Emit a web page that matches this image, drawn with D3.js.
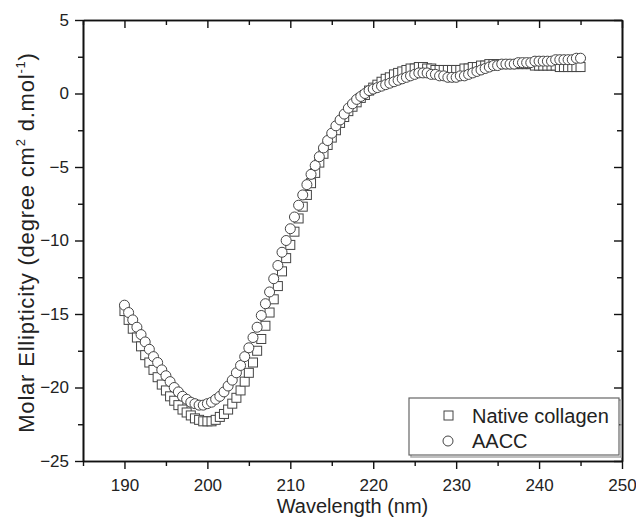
<!DOCTYPE html>
<html>
<head>
<meta charset="utf-8">
<script src="https://d3js.org/d3.v7.min.js"></script>
<style>
  body { margin: 0; background: #fff; }
  text { font-family: "Liberation Sans", Arial, sans-serif; fill: #222; }
</style>
</head>
<body>
<svg id="drawing_region"></svg>
<script>
// wavelength 190..245 nm, 0.5 nm step
const wl_start = 190;
const wl_step = 0.5;

const native_collagen = [
    -14.8, -15.4, -16.0, -16.6, -17.2, -17.8, -18.3, -18.8, -19.3, -19.8,
    -20.2, -20.6, -20.9, -21.2, -21.5, -21.7, -21.9, -22.1, -22.2, -22.3,
    -22.3, -22.3, -22.2, -22.0, -21.8, -21.5, -21.1, -20.7, -20.2, -19.6,
    -19.0, -18.3, -17.5, -16.7, -15.8, -14.9, -14.0, -13.1, -12.1, -11.2,
    -10.3, -9.4, -8.5, -7.7, -6.9, -6.1, -5.4, -4.7, -4.1, -3.5,
    -3.0, -2.5, -2.0, -1.6, -1.2, -0.9, -0.6, -0.3, -0.1, 0.2,
    0.4, 0.6, 0.8, 1.0, 1.1, 1.3, 1.4, 1.5, 1.6, 1.7,
    1.7, 1.8, 1.8, 1.7, 1.7, 1.6, 1.6, 1.6, 1.6, 1.6,
    1.6, 1.6, 1.7, 1.7, 1.8, 1.8, 1.9, 1.9, 2.0, 2.0,
    2.0, 2.0, 2.0, 2.0, 2.0, 2.0, 2.0, 2.0, 2.0, 1.9,
    1.9, 1.9, 1.9, 1.9, 1.9, 1.8, 1.8, 1.8, 1.8, 1.8,
    1.8
];

const aacc = [
    -14.4, -14.9, -15.4, -15.9, -16.4, -16.9, -17.4, -17.9, -18.3, -18.8,
    -19.2, -19.6, -20.0, -20.3, -20.6, -20.8, -21.0, -21.1, -21.2, -21.2,
    -21.1, -21.0, -20.8, -20.6, -20.3, -19.9, -19.5, -19.0, -18.5, -17.9,
    -17.3, -16.6, -15.9, -15.1, -14.3, -13.5, -12.6, -11.7, -10.8, -10.0,
    -9.2, -8.4, -7.6, -6.9, -6.2, -5.5, -4.9, -4.3, -3.7, -3.2,
    -2.7, -2.2, -1.8, -1.4, -1.0, -0.7, -0.4, -0.2, 0.0, 0.2,
    0.3, 0.4, 0.5, 0.6, 0.7, 0.8, 0.9, 1.0, 1.1, 1.2,
    1.3, 1.4, 1.4, 1.4, 1.3, 1.3, 1.2, 1.2, 1.1, 1.1,
    1.1, 1.2, 1.2, 1.3, 1.4, 1.5, 1.6, 1.7, 1.8, 1.9,
    1.9, 2.0, 2.0, 2.0, 2.0, 2.1, 2.1, 2.1, 2.1, 2.2,
    2.2, 2.2, 2.2, 2.2, 2.3, 2.3, 2.3, 2.3, 2.3, 2.4,
    2.4
];

const series_names = ["Native collagen", "AACC"];
const x_ticks = [190, 200, 210, 220, 230, 240, 250];
const y_ticks = [-25, -20, -15, -10, -5, 0, 5];

class CDPlot {

    constructor( config ) {
        this.config = config;
        this.init();
    }

    init() {
        let self = this;

        self.svg = d3.select( self.config.parent )
            .attr('width', self.config.width)
            .attr('height', self.config.height);

        self.left = self.config.margin.left;
        self.top = self.config.margin.top;
        self.right = self.config.width - self.config.margin.right;
        self.bottom = self.config.height - self.config.margin.bottom;

        self.xscale = d3.scaleLinear()
            .domain( [185, 250] )
            .range( [self.left, self.right] );

        self.yscale = d3.scaleLinear()
            .domain( [-25, 5] )
            .range( [self.bottom, self.top] );
    }

    axes() {
        let self = this;
        const minor_x = d3.range(185, 251, 5).filter(d => d % 10 != 0);
        const minor_y = d3.range(-22.5, 5, 5);

        // bottom
        const xb = self.svg.append('g')
            .attr('transform', `translate(0, ${self.bottom})`)
            .call( d3.axisBottom(self.xscale).tickValues(x_ticks).tickSize(8).tickPadding(4).tickSizeOuter(0) );
        self.svg.append('g')
            .attr('transform', `translate(0, ${self.bottom})`)
            .call( d3.axisBottom(self.xscale).tickValues(minor_x).tickSize(5).tickFormat('').tickSizeOuter(0) );
        // top, ticks inward
        self.svg.append('g')
            .attr('transform', `translate(0, ${self.top})`)
            .call( d3.axisBottom(self.xscale).tickValues(x_ticks).tickSize(8).tickFormat('').tickSizeOuter(0) );
        self.svg.append('g')
            .attr('transform', `translate(0, ${self.top})`)
            .call( d3.axisBottom(self.xscale).tickValues(minor_x).tickSize(5).tickFormat('').tickSizeOuter(0) );
        // left
        self.svg.append('g')
            .attr('transform', `translate(${self.left}, 0)`)
            .call( d3.axisLeft(self.yscale).tickValues(y_ticks).tickSize(8).tickPadding(6).tickSizeOuter(0) );
        self.svg.append('g')
            .attr('transform', `translate(${self.left}, 0)`)
            .call( d3.axisLeft(self.yscale).tickValues(minor_y).tickSize(5).tickFormat('').tickSizeOuter(0) );
        // right, ticks inward
        self.svg.append('g')
            .attr('transform', `translate(${self.right}, 0)`)
            .call( d3.axisLeft(self.yscale).tickValues(y_ticks).tickSize(8).tickFormat('').tickSizeOuter(0) );
        self.svg.append('g')
            .attr('transform', `translate(${self.right}, 0)`)
            .call( d3.axisLeft(self.yscale).tickValues(minor_y).tickSize(5).tickFormat('').tickSizeOuter(0) );

        self.svg.selectAll('.domain').attr('stroke', '#111').attr('stroke-width', 1.6);
        self.svg.selectAll('.tick line').attr('stroke', '#111').attr('stroke-width', 1.4);
        self.svg.selectAll('.tick text')
            .attr('font-size', 17)
            .attr('font-family', '"Liberation Sans", Arial, sans-serif')
            .attr('fill', '#222');
        xb.selectAll('.tick text').attr('dy', '1.05em');

        self.svg.append("text")
            .attr("x", (self.left + self.right) / 2)
            .attr("y", 513)
            .attr("text-anchor", "middle")
            .attr("font-size", 20)
            .text("Wavelength (nm)");

        const yl_text = self.svg.append("text")
            .attr("transform", `translate(34, ${(self.top + self.bottom) / 2 + 2}) rotate(-90)`)
            .attr("text-anchor", "middle")
            .attr("font-size", 22)
            .attr("letter-spacing", 0.8);
        yl_text.append('tspan').text("Molar Ellipticity (degree cm");
        yl_text.append('tspan').attr('font-size', 13).attr('dy', -9).text("2");
        yl_text.append('tspan').attr('dy', 9).text(" d.mol");
        yl_text.append('tspan').attr('font-size', 13).attr('dy', -9).text("-1");
        yl_text.append('tspan').attr('dy', 9).text(")");
    }

    render() {
        let self = this;
        const wl = (d, i) => wl_start + i * wl_step;

        self.svg.append('g').selectAll("rect")
            .data(native_collagen)
            .enter()
            .append("rect")
            .attr("x", (d, i) => self.xscale( wl(d, i) ) - 4.5 )
            .attr("y", d => self.yscale( d ) - 4.5 )
            .attr("width", 9)
            .attr("height", 9)
            .attr("fill", "#fff")
            .attr("stroke", "#444")
            .attr("stroke-width", 1);

        self.svg.append('g').selectAll("circle")
            .data(aacc)
            .enter()
            .append("circle")
            .attr("cx", (d, i) => self.xscale( wl(d, i) ) )
            .attr("cy", d => self.yscale( d ) )
            .attr("r", 5)
            .attr("fill", "#fff")
            .attr("stroke", "#444")
            .attr("stroke-width", 1);

        // legend
        const lg = self.svg.append('g');
        lg.append('rect')
            .attr('x', 411).attr('y', 400).attr('width', 210).attr('height', 57)
            .attr('fill', 'none').attr('stroke', '#aaa').attr('stroke-width', 1.5);
        lg.append('rect')
            .attr('x', 409).attr('y', 398).attr('width', 210).attr('height', 57)
            .attr('fill', '#fff').attr('stroke', '#666').attr('stroke-width', 1.2);
        lg.append('rect')
            .attr('x', 444).attr('y', 411).attr('width', 9).attr('height', 9)
            .attr('fill', '#fff').attr('stroke', '#444');
        lg.append('circle')
            .attr('cx', 448).attr('cy', 441).attr('r', 5)
            .attr('fill', '#fff').attr('stroke', '#444');
        lg.selectAll('text.lab')
            .data(series_names)
            .enter()
            .append('text')
            .attr('x', 472)
            .attr('y', (d, i) => 423 + i * 25)
            .attr('font-size', 20)
            .text(d => d);
    }
}

var config = {
    parent: '#drawing_region',
    width: 636,
    height: 521,
    margin: {top:20, right:14, bottom:60, left:83}
};

const plot = new CDPlot( config );
plot.axes();
plot.render();
</script>
</body>
</html>
